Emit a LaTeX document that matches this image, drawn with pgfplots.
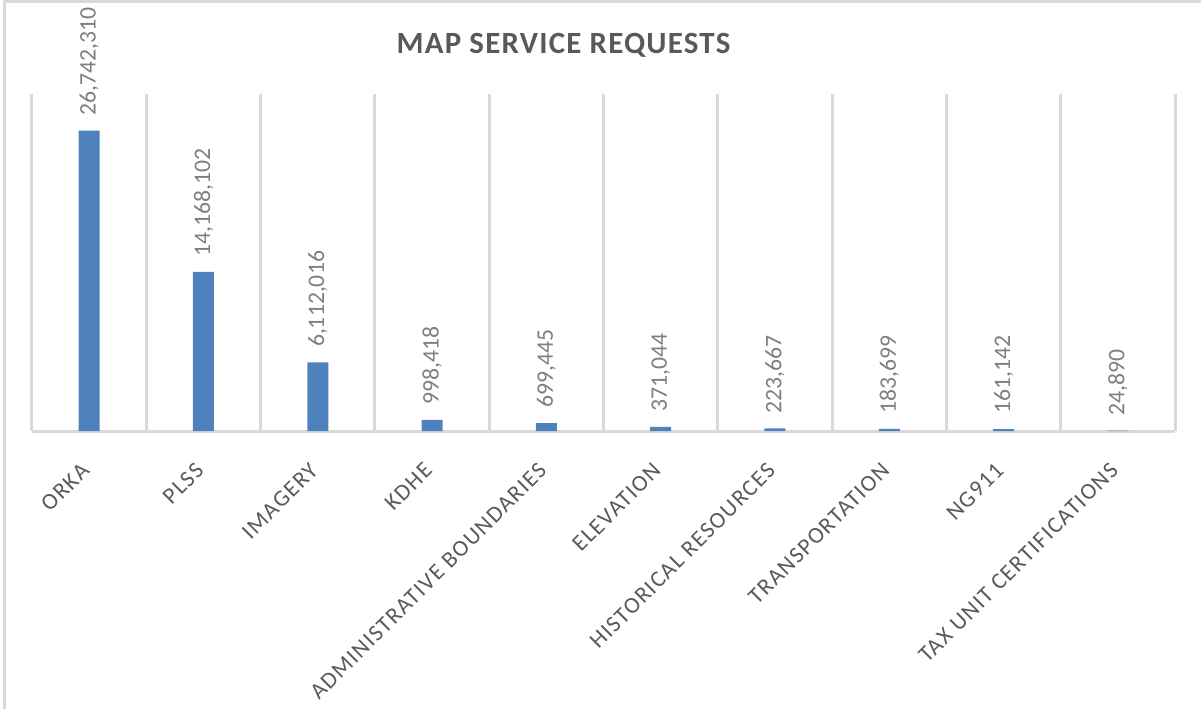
\documentclass[border=0pt]{standalone}
\usepackage{fontspec}
\setmainfont{Carlito}
\newfontfamily\spaced[LetterSpace=6]{Carlito}
\newfontfamily\titlefont[LetterSpace=4]{Carlito}
\usepackage{pgfplots}
\pgfplotsset{compat=1.18}
\definecolor{barblue}{RGB}{79,129,189}
\definecolor{gridc}{RGB}{217,217,217}
\definecolor{txt}{RGB}{89,89,89}
\definecolor{vals}{RGB}{127,127,127}
\begin{document}
\begin{tikzpicture}
\begin{scope}[x=0.5bp,y=-0.5bp]
\draw[gridc, line width=1.5bp] (5,709) -- (5,2) -- (1201,2);
\node[font=\titlefont\bfseries\fontsize{15.5}{18}\selectfont, text=txt] at (563.5,45) {MAP SERVICE REQUESTS};
\end{scope}
\begin{axis}[
 at={(16bp,-215.5bp)}, anchor=south west,
 width=571.5bp, height=168.5bp, scale only axis,
 xmin=-0.5, xmax=9.5, ymin=0, ymax=30000000,
 axis x line*=bottom, axis y line=none,
 x axis line style={gridc, line width=1.5bp, -},
 xtick={0,...,9},
 xticklabels={ORKA, PLSS, IMAGERY, KDHE, ADMINISTRATIVE BOUNDARIES, ELEVATION, HISTORICAL RESOURCES, TRANSPORTATION, NG911, TAX UNIT CERTIFICATIONS},
 major tick length=0pt,
 minor xtick={-0.5,0.5,...,9.5},
 minor tick length=0pt,
 xminorgrids, minor grid style={gridc, line width=1.5bp},
 xticklabel style={rotate=45, anchor=north east, xshift=-10.5bp, yshift=-4bp, font=\spaced\fontsize{11.6}{14}\selectfont, text=txt},
 ybar, bar width=10.5bp, bar shift=0pt,
 point meta=explicit symbolic,
 nodes near coords,
 nodes near coords style={rotate=90, anchor=west, inner xsep=7.5bp, inner ysep=0pt, font=\fontsize{11.9}{14}\selectfont, text=vals},
 clip=false,
]
\addplot[fill=barblue, draw=none] coordinates {
(0,26742310) [26,742,310]
(1,14168102) [14,168,102]
(2,6112016) [6,112,016]
(3,998418) [998,418]
(4,699445) [699,445]
(5,371044) [371,044]
(6,223667) [223,667]
(7,183699) [183,699]
(8,161142) [161,142]
(9,24890) [24,890]
};
\end{axis}
\pgfresetboundingbox
\path[use as bounding box] (0,0) rectangle (600.5bp,-354.5bp);
\end{tikzpicture}
\end{document}
